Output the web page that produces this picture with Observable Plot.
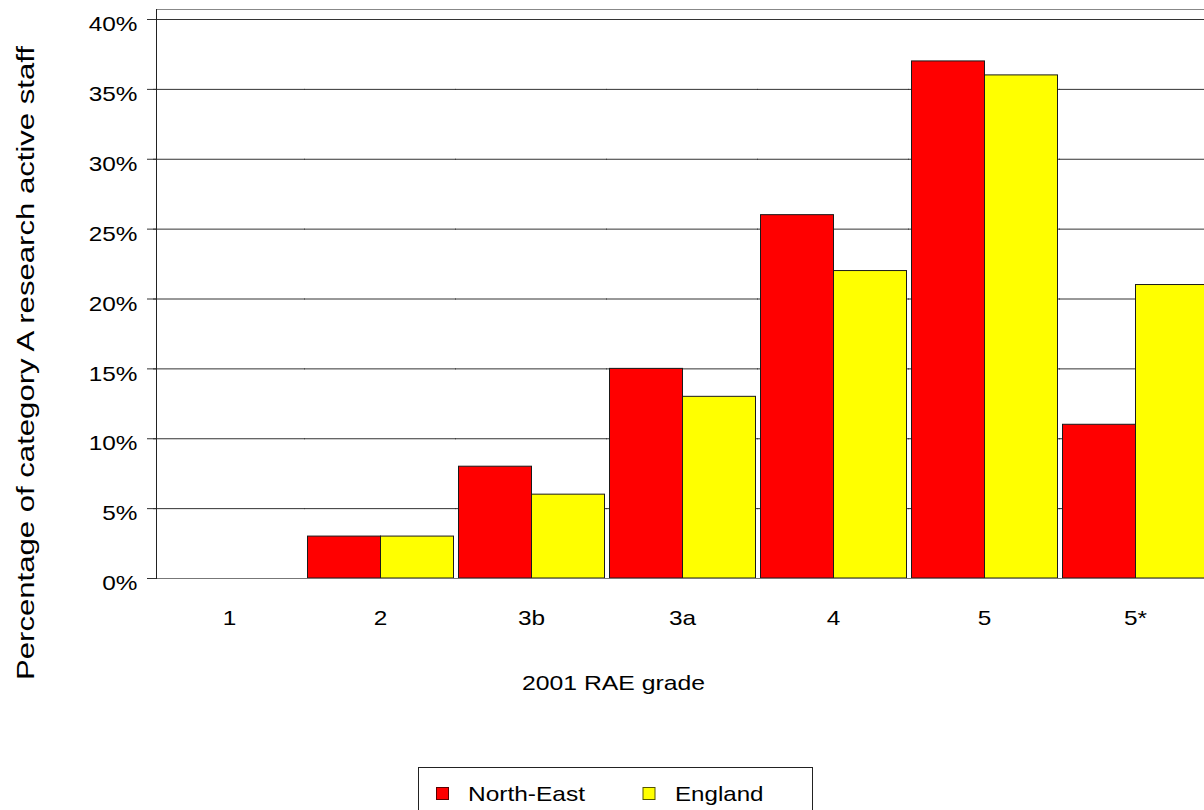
<!DOCTYPE html>
<html>
<head>
<meta charset="utf-8">
<script src="https://cdn.jsdelivr.net/npm/d3@7"></script>
<script src="https://cdn.jsdelivr.net/npm/@observablehq/plot@0.6"></script>
<style>
  html, body { margin: 0; padding: 0; background: #fff; overflow: hidden; width: 1204px; height: 810px; }
  #wrap { position: relative; width: 1204px; height: 810px; overflow: hidden; }
  #overlay { position: absolute; left: 0; top: 0; pointer-events: none; }
</style>
</head>
<body>
<div id="wrap"></div>
<script>
// ---- data ----
const grades = ["1", "2", "3b", "3a", "4", "5", "5*"];
const seriesNames = ["North-East", "England"];
const northEast = [0, 3, 8, 15, 26, 37, 11];
const england = [0, 3, 6, 13, 22, 36, 21];
const yTicks = [0, 5, 10, 15, 20, 25, 30, 35, 40];
const yMax = 40.7156;
const seriesColors = ["#ff0000", "#ffff00"];
const yTitle = "Percentage of category A research active staff";
const xTitle = "2001 RAE grade";

const rows = grades.flatMap((g, i) => [
  {grade: g, series: seriesNames[0], value: northEast[i]},
  {grade: g, series: seriesNames[1], value: england[i]}
]);

const FONT = "'Liberation Sans', Arial, Helvetica, sans-serif";

function build(useSuper) {
  const marks = [
    Plot.ruleY(yTicks.filter(t => t > 0), {stroke: "#333", strokeWidth: 1, insetLeft: -3, insetRight: -3}),
    Plot.barY(rows, {
      fx: "grade", x: "series", y: "value", fill: "series",
      filter: d => d.value > 0,
      stroke: "#1a1a1a", strokeWidth: 1
    }),
    Plot.ruleY([0], {stroke: "#777", strokeWidth: 1, insetLeft: -3, insetRight: -3}),
    Plot.axisY({ticks: yTicks, tickSize: 9, tickFormat: () => "", label: null, stroke: "#333"}),
    Plot.axisY({ticks: yTicks, tickSize: 0, tickPadding: 19, dy: 5, tickFormat: d => d + "%", label: null, fill: "#000", fontSize: 21}),
    Plot.axisFx({anchor: "bottom", tickSize: 0, tickPadding: 32, label: null, fill: "#000", fontSize: 21})
  ];
  if (useSuper) {
    marks.push(
      Plot.frame({anchor: "top", facet: "super", stroke: "#888"}),
      Plot.frame({anchor: "left", facet: "super", stroke: "#222"})
    );
  }
  return Plot.plot({
    width: 1214,
    height: 760,
    marginTop: 9,
    marginBottom: 182,
    marginLeft: 153.5,
    marginRight: 3.8,
    fx: {domain: grades, paddingInner: 0.035, paddingOuter: 0, label: null},
    x: {domain: seriesNames, padding: 0, axis: null},
    y: {domain: [0, yMax]},
    color: {domain: seriesNames, range: seriesColors},
    style: {fontFamily: FONT, fontSize: "21px", maxWidth: "none", background: "#fff", color: "#000"},
    marks
  });
}

let chart;
try { chart = build(true); } catch (e) { console.error(e); chart = build(false); }
const wrap = document.getElementById("wrap");
wrap.append(chart);

// widen tick labels slightly to match the reference's lettering
chart.querySelectorAll("text").forEach(t => {
  const L = t.getComputedTextLength();
  if (L > 0) {
    t.setAttribute("textLength", (L * 1.16).toFixed(2));
    t.setAttribute("lengthAdjust", "spacingAndGlyphs");
  }
});

// ---- titles and legend overlay ----
const ov = d3.create("svg")
  .attr("id", "overlay")
  .attr("width", 1204).attr("height", 810)
  .attr("font-family", FONT);

ov.append("text")
  .attr("transform", "translate(34,363) rotate(-90)")
  .attr("text-anchor", "middle")
  .attr("font-size", 23)
  .attr("textLength", 634)
  .attr("lengthAdjust", "spacingAndGlyphs")
  .text(yTitle);

ov.append("text")
  .attr("x", 613.5).attr("y", 690)
  .attr("text-anchor", "middle")
  .attr("font-size", 21)
  .attr("textLength", 183)
  .attr("lengthAdjust", "spacingAndGlyphs")
  .text(xTitle);

const lg = ov.append("g");
lg.append("rect")
  .attr("x", 418.5).attr("y", 767.5).attr("width", 394).attr("height", 70)
  .attr("fill", "#fff").attr("stroke", "#222");
const legendItems = [
  {name: seriesNames[0], color: seriesColors[0], edge: "#5a0000", sx: 436.5, tx: 468, w: 117},
  {name: seriesNames[1], color: seriesColors[1], edge: "#555500", sx: 643, tx: 675, w: 88.5}
];
legendItems.forEach(it => {
  lg.append("rect")
    .attr("x", it.sx).attr("y", 787.5).attr("width", 12).attr("height", 12)
    .attr("fill", it.color).attr("stroke", it.edge);
  lg.append("text")
    .attr("x", it.tx).attr("y", 800.5)
    .attr("font-size", 21)
    .attr("textLength", it.w)
    .attr("lengthAdjust", "spacingAndGlyphs")
    .text(it.name);
});

wrap.append(ov.node());
</script>
</body>
</html>
